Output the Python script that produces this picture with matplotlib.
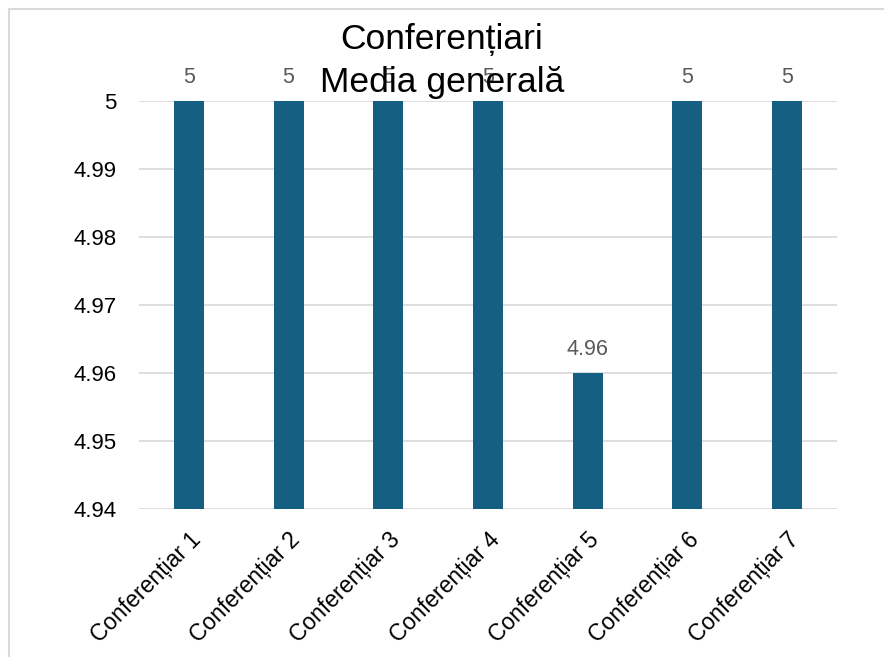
import matplotlib
matplotlib.use("Agg")
import matplotlib.pyplot as plt
from matplotlib.patches import Rectangle

plt.rcParams['font.family'] = ['Liberation Sans', 'DejaVu Sans']

categories = ["Conferențiar 1", "Conferențiar 2", "Conferențiar 3", "Conferențiar 4",
              "Conferențiar 5", "Conferențiar 6", "Conferențiar 7"]
values = [5, 5, 5, 5, 4.96, 5, 5]
value_labels = ["5", "5", "5", "5", "4.96", "5", "5"]
yticks = [4.94, 4.95, 4.96, 4.97, 4.98, 4.99, 5]
ytick_labels = ["4.94", "4.95", "4.96", "4.97", "4.98", "4.99", "5"]
title = "Conferențiari\nMedia generală"

W, H = 884, 657
fig = plt.figure(figsize=(W / 100, H / 100), dpi=100)
ax = fig.add_axes([139 / W, 1 - 509 / H, (837 - 139) / W, (509 - 101) / H])

x = list(range(len(categories)))
ax.bar(x, values, width=0.3, color="#156082", zorder=3)
ax.set_xlim(-0.5, len(categories) - 0.5)
ax.set_ylim(4.94, 5)
ax.set_yticks(yticks)
ax.set_yticklabels(ytick_labels, fontsize=16, color="#000000")
ax.set_xticks(x)
ax.set_xticklabels(categories, rotation=45, ha="right", rotation_mode="anchor",
                   fontsize=16.5, color="#000000")
ax.tick_params(axis="both", length=0)
ax.tick_params(axis="y", pad=16)
ax.tick_params(axis="x", pad=14)
ax.grid(axis="y", color="#D9D9D9", linewidth=1.2, zorder=0)
for s in ax.spines.values():
    s.set_visible(False)

for xi, v, lab in zip(x, values, value_labels):
    ax.annotate(lab, (xi, v), xytext=(0, 9.5), textcoords="offset points",
                ha="center", va="bottom", fontsize=15.5, color="#595959",
                annotation_clip=False, zorder=4)

fig.text(0.5, 1 - 61 / H, title, ha="center", va="center",
         fontsize=25.5, color="#000000", linespacing=1.35, zorder=5)

fig.patches.append(Rectangle((8.5 / W, -0.1), 1, (H - 8.5) / H + 0.1,
                             transform=fig.transFigure, fill=False,
                             edgecolor="#D9D9D9", linewidth=1.5))

fig.savefig("out.png", dpi=100, facecolor="white")
